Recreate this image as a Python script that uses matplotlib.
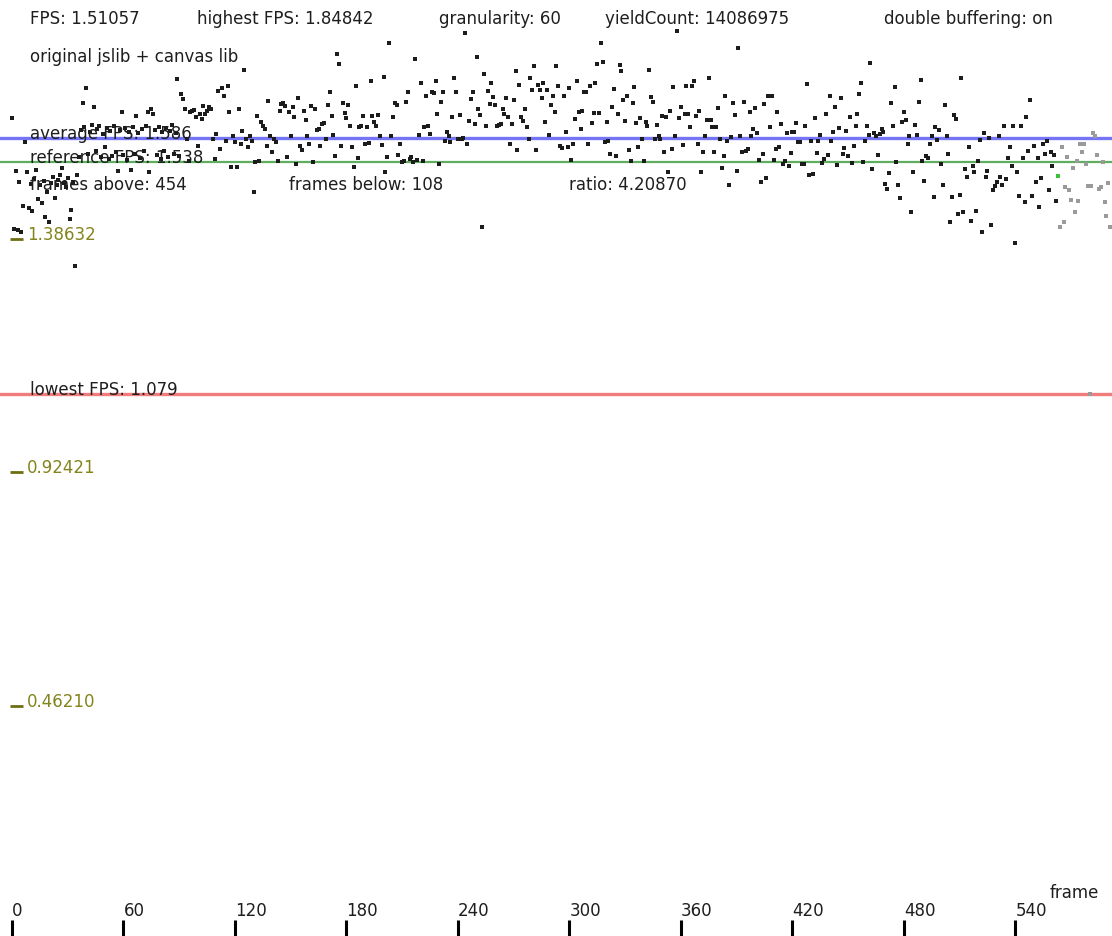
import matplotlib.pyplot as plt
import matplotlib.transforms as mtransforms

# fps measured per frame; frames after the current one are left over from the previous pass
fps = [
    1.626, 1.406, 1.521, 1.404, 1.499, 1.400, 1.452, 1.578, 1.519, 1.448,
    1.495, 1.442, 1.505, 1.523, 1.465, 1.493, 1.457, 1.501, 1.430, 1.479,
    1.420, 1.497, 1.509, 1.467, 1.493, 1.503, 1.513, 1.527, 1.497, 1.489,
    1.507, 1.426, 1.444, 1.499, 1.333, 1.513, 1.548, 1.602, 1.655, 1.608,
    1.685, 1.554, 1.598, 1.612, 1.648, 1.560, 1.604, 1.610, 1.548, 1.594,
    1.568, 1.606, 1.545, 1.600, 1.550, 1.610, 1.558, 1.521, 1.602, 1.638,
    1.552, 1.606, 1.543, 1.598, 1.523, 1.608, 1.554, 1.630, 1.596, 1.547,
    1.604, 1.560, 1.610, 1.638, 1.519, 1.644, 1.634, 1.602, 1.552, 1.608,
    1.545, 1.598, 1.560, 1.606, 1.548, 1.600, 1.612, 1.554, 1.596, 1.703,
    1.550, 1.673, 1.663, 1.644, 1.584, 1.541, 1.638, 1.640, 1.642, 1.628,
    1.570, 1.634, 1.624, 1.650, 1.634, 1.640, 1.648, 1.644, 1.584, 1.545,
    1.594, 1.679, 1.564, 1.685, 1.669, 1.580, 1.689, 1.638, 1.529, 1.590,
    1.578, 1.529, 1.644, 1.574, 1.600, 1.721, 1.584, 1.568, 1.590, 1.580,
    1.479, 1.539, 1.630, 1.541, 1.618, 1.610, 1.604, 1.570, 1.659, 1.590,
    1.558, 1.584, 1.578, 1.541, 1.640, 1.653, 1.655, 1.650, 1.548, 1.638,
    1.590, 1.648, 1.628, 1.535, 1.665, 1.570, 1.562, 1.640, 1.622, 1.590,
    1.574, 1.650, 1.539, 1.644, 1.602, 1.604, 1.570, 1.614, 1.616, 1.584,
    1.651, 1.677, 1.630, 1.592, 1.550, 1.752, 1.733, 1.570, 1.655, 1.636,
    1.626, 1.651, 1.610, 1.568, 1.529, 1.689, 1.547, 1.608, 1.610, 1.630,
    1.574, 1.608, 1.576, 1.699, 1.630, 1.618, 1.610, 1.632, 1.590, 1.572,
    1.707, 1.519, 1.548, 1.774, 1.590, 1.628, 1.655, 1.651, 1.552, 1.574,
    1.539, 1.541, 1.657, 1.677, 1.545, 1.548, 1.539, 1.743, 1.543, 1.592,
    1.695, 1.541, 1.608, 1.669, 1.610, 1.594, 1.677, 1.675, 1.699, 1.634,
    1.535, 1.657, 1.677, 1.580, 1.598, 1.590, 1.578, 1.628, 1.705, 1.677,
    1.584, 1.632, 1.584, 1.586, 1.794, 1.574, 1.620, 1.663, 1.677, 1.614,
    1.746, 1.644, 1.632, 1.410, 1.713, 1.610, 1.679, 1.653, 1.695, 1.667,
    1.651, 1.610, 1.612, 1.614, 1.644, 1.634, 1.665, 1.628, 1.574, 1.614,
    1.661, 1.719, 1.562, 1.691, 1.628, 1.620, 1.644, 1.608, 1.584, 1.705,
    1.681, 1.729, 1.562, 1.691, 1.681, 1.665, 1.695, 1.618, 1.681, 1.592,
    1.651, 1.669, 1.638, 1.729, 1.689, 1.570, 1.566, 1.669, 1.598, 1.568,
    1.685, 1.543, 1.574, 1.624, 1.699, 1.638, 1.604, 1.640, 1.677, 1.677,
    1.574, 1.689, 1.616, 1.636, 1.695, 1.733, 1.636, 1.774, 1.737, 1.578,
    1.618, 1.580, 1.554, 1.648, 1.683, 1.550, 1.634, 1.731, 1.719, 1.661,
    1.620, 1.669, 1.562, 1.541, 1.655, 1.687, 1.616, 1.568, 1.626, 1.584,
    1.541, 1.618, 1.610, 1.721, 1.667, 1.657, 1.584, 1.612, 1.590, 1.584,
    1.630, 1.558, 1.628, 1.519, 1.640, 1.564, 1.687, 1.590, 1.798, 1.626,
    1.648, 1.572, 1.634, 1.689, 1.634, 1.608, 1.689, 1.699, 1.630, 1.574,
    1.640, 1.519, 1.558, 1.590, 1.622, 1.705, 1.622, 1.608, 1.558, 1.608,
    1.646, 1.584, 1.527, 1.550, 1.669, 1.580, 1.493, 1.588, 1.655, 1.632,
    1.521, 1.764, 1.590, 1.558, 1.657, 1.560, 1.564, 1.638, 1.590, 1.604,
    1.646, 1.596, 1.543, 1.499, 1.554, 1.653, 1.507, 1.669, 1.608, 1.669,
    1.543, 1.564, 1.638, 1.568, 1.614, 1.535, 1.541, 1.596, 1.531, 1.556,
    1.598, 1.598, 1.616, 1.578, 1.578, 1.535, 1.535, 1.610, 1.693, 1.513,
    1.580, 1.515, 1.626, 1.556, 1.580, 1.592, 1.537, 1.545, 1.634, 1.552,
    1.669, 1.580, 1.598, 1.648, 1.533, 1.606, 1.665, 1.554, 1.566, 1.600,
    1.550, 1.628, 1.537, 1.570, 1.610, 1.634, 1.673, 1.695, 1.539, 1.580,
    1.610, 1.592, 1.735, 1.525, 1.596, 1.590, 1.552, 1.594, 1.604, 1.598,
    1.495, 1.485, 1.517, 1.655, 1.610, 1.687, 1.539, 1.493, 1.467, 1.618,
    1.638, 1.622, 1.574, 1.590, 1.440, 1.519, 1.612, 1.592, 1.657, 1.701,
    1.541, 1.501, 1.550, 1.547, 1.574, 1.590, 1.469, 1.608, 1.582, 1.602,
    1.535, 1.493, 1.651, 1.590, 1.554, 1.420, 1.469, 1.632, 1.624, 1.436,
    1.473, 1.705, 1.440, 1.525, 1.509, 1.568, 1.422, 1.531, 1.519, 1.442,
    1.541, 1.582, 1.400, 1.596, 1.509, 1.521, 1.586, 1.414, 1.483, 1.491,
    1.499, 1.590, 1.509, 1.493, 1.610, 1.505, 1.547, 1.568, 1.531, 1.610,
    1.378, 1.519, 1.471, 1.610, 1.547, 1.459, 1.628, 1.560, 1.661, 1.471,
    1.570, 1.499, 1.547, 1.450, 1.507, 1.574, 1.554, 1.580, 1.483, 1.558,
    1.531, 1.552, 1.461, 1.51057, 1.410, 1.568, 1.420, 1.489, 1.548, 1.483,
    1.463, 1.527, 1.440, 1.541, 1.461, 1.574, 1.558, 1.574, 1.535, 1.491,
    1.079, 1.491, 1.596, 1.590, 1.552, 1.485, 1.489, 1.539, 1.459, 1.432,
    1.497, 1.410,
]
current_frame = 563

current_fps = 1.51057
highest_fps = 1.84842
average_fps = 1.586
reference_fps = 1.538
lowest_fps = 1.079
granularity = 60
yield_count = 14086975
frames_above = 454
frames_below = 108
ratio = 4.20870

y_ticks = [0.46210, 0.92421, 1.38632]
x_ticks = [0, 60, 120, 180, 240, 300, 360, 420, 480, 540]

W, H = 1112, 937
FS = 12
TXT = "#1e1e1e"
fig = plt.figure(figsize=(W / 100, H / 100), dpi=100)
ax = fig.add_axes([0, 0, 1, 1])
ax.set_xlim(-12 / 1.858, 1100 / 1.858)
ax.set_ylim(3 / 505, 940 / 505)
ax.axis("off")


def px(x, y):
    return x / W, 1 - y / H


# x in figure fraction, y in fps
yb = mtransforms.blended_transform_factory(fig.transFigure, ax.transData)
# x in frames, y in figure fraction
xb = mtransforms.blended_transform_factory(ax.transData, fig.transFigure)

ax.axhline(average_fps, color="#7474f4", lw=2.4, zorder=1)
ax.axhline(reference_fps, color="#5fae5f", lw=1.6, zorder=1)
ax.axhline(lowest_fps, color="#f07c7c", lw=2.4, zorder=1)

frames = list(range(len(fps)))
ax.plot(frames[:current_frame], fps[:current_frame], "s", ms=2.3, mew=0,
        color="#1c1c1c", zorder=2)
ax.plot(frames[current_frame + 1:], fps[current_frame + 1:], "s", ms=2.3,
        mew=0, color="#9a9a9a", zorder=2)
ax.plot([current_frame], [fps[current_frame]], "s", ms=2.3, mew=0,
        color="#3cc03c", zorder=2)

# header
header = [
    (30, f"FPS: {current_fps:.5f}"),
    (197, f"highest FPS: {highest_fps:.5f}"),
    (439, f"granularity: {granularity}"),
    (605, f"yieldCount: {yield_count}"),
    (884, "double buffering: on"),
]
for x, s in header:
    fig.text(*px(x, 24), s, fontsize=FS, va="baseline", color=TXT)
fig.text(*px(30, 62), "original jslib + canvas lib", fontsize=FS,
         va="baseline", color=TXT)

# statistics drawn on their lines
ax.text(30 / W, average_fps, f"average FPS: {average_fps}",
        transform=yb, fontsize=FS, va="baseline", color=TXT, zorder=3)
ax.text(30 / W, reference_fps, f"reference FPS: {reference_fps}",
        transform=yb, fontsize=FS, va="baseline", color=TXT, zorder=3)
ax.text(30 / W, lowest_fps, f"lowest FPS: {lowest_fps}",
        transform=yb, fontsize=FS, va="baseline", color=TXT, zorder=3)
for x, s in [(30, f"frames above: {frames_above}"),
             (289, f"frames below: {frames_below}"),
             (569, f"ratio: {ratio:.5f}")]:
    fig.text(*px(x, 190), s, fontsize=FS, va="baseline", color=TXT,
             zorder=3)

# y scale marks
for v in y_ticks:
    ax.plot([10 / W, 23 / W], [v, v], color="#6e6e10", lw=2.0,
            transform=yb, solid_capstyle="butt", zorder=3)
    ax.text(27 / W, v, f"{v:.5f}", transform=yb, fontsize=FS,
            va="baseline", color="#84841c", zorder=3)

# frame axis
ax.vlines(x_ticks, 0, 16 / H, transform=xb, color="black", lw=2.2)
for t in x_ticks:
    ax.text(t, 1 - 916 / H, str(t), transform=xb, fontsize=FS,
            va="baseline", ha="left", color=TXT)
fig.text(*px(1050, 898), "frame", fontsize=FS, va="baseline", color=TXT)

fig.savefig("out.png", dpi=100)
